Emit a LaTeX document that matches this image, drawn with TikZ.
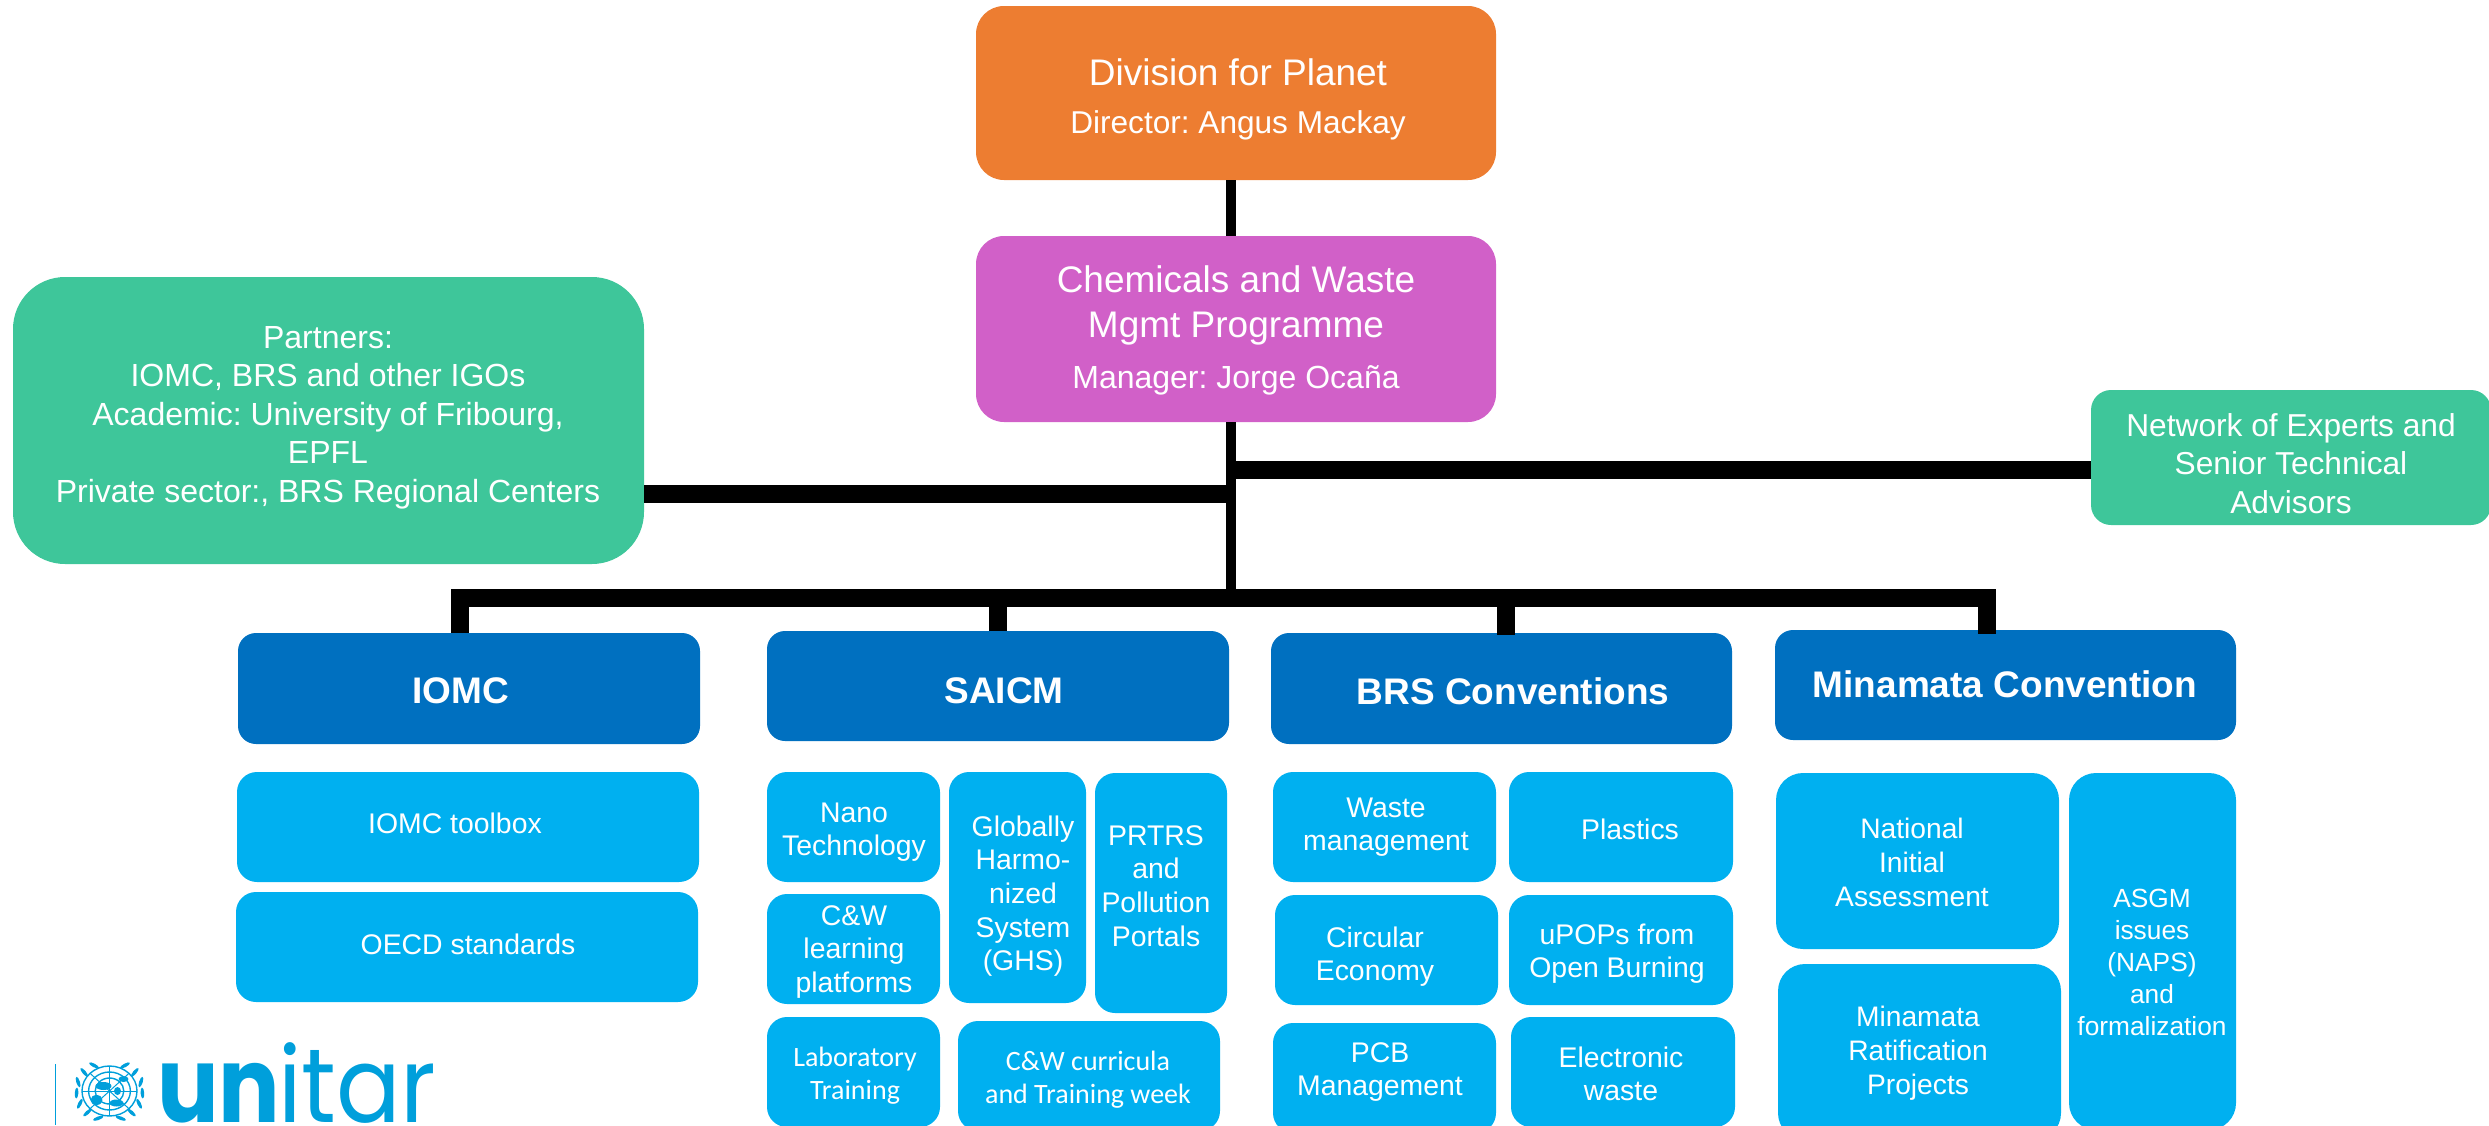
\documentclass[tikz,border=0pt]{standalone}
\usepackage{fontspec}
\setmainfont{Liberation Sans}
\newfontfamily\calfont{Carlito}
\newfontfamily\logofont{Poppins}
\definecolor{cOrange}{HTML}{ED7D31}
\definecolor{cPurple}{HTML}{D160C8}
\definecolor{cGreen}{HTML}{3EC69A}
\definecolor{cDark}{HTML}{0070C0}
\definecolor{cLight}{HTML}{00B0F0}
\definecolor{cLogo}{HTML}{009FDB}
\newcommand\sz[2]{\fontsize{#1}{#2}\selectfont}
\tikzset{
  bxbase/.style={rectangle,inner xsep=0pt,inner ysep=0pt,outer sep=0pt,text=white,anchor=center},
  topbox/.style={bxbase,fill=#1,rounded corners=28pt,font=\sz{37}{45}},
  greenbig/.style={bxbase,fill=cGreen,rounded corners=52pt,font=\sz{32}{38.5}},
  greensmall/.style={bxbase,fill=cGreen,rounded corners=20pt,font=\sz{31.7}{38.5}},
  headbox/.style={bxbase,fill=cDark,rounded corners=18pt,font=\sz{37}{44}\bfseries},
  leaf/.style={bxbase,fill=cLight,rounded corners=20pt,font=\sz{28.4}{33.7}},
  leafcal/.style={bxbase,fill=cLight,rounded corners=20pt,font=\calfont\sz{28}{33.5}},
  leafbig/.style={bxbase,fill=cLight,rounded corners=27pt,font=\sz{28.2}{34}},
  leafasgm/.style={bxbase,fill=cLight,rounded corners=27pt,font=\sz{26.3}{32}},
  wirethin/.style={line width=10pt,black},
  wirethick/.style={line width=18pt,black,line join=miter},
  logotext/.style={inner sep=0pt,outer sep=0pt,anchor=base west,text=cLogo}
}
% style, name, x1, y1, x2, y2, first baseline, text centre x, text
\newcommand\bx[9]{%
  \pgfmathsetmacro\bxW{#5-(#3)}%
  \pgfmathsetmacro\bxA{#7-(#4)}%
  \pgfmathsetmacro\bxB{#6-(#7)}%
  \pgfmathsetmacro\bxCx{(#3+#5)/2}%
  \pgfmathsetmacro\bxCy{(#4+#6)/2}%
  \pgfmathsetmacro\bxD{2*(#8-\bxCx)}%
  \node[#1,minimum width=\bxW pt,text height=\bxA pt,text depth=\bxB pt] (#2) at (\bxCx,\bxCy)
    {\hspace*{\bxD pt}\begin{tabular}[t]{@{}c@{}}#9\end{tabular}};%
}
\frenchspacing
\begin{document}
\begin{tikzpicture}[x=1pt,y=-1pt]
\useasboundingbox (0,0) rectangle (2489,1125);
\clip (0,0) rectangle (2489,1125);

% top boxes
\bx{topbox=cOrange}{division}{976}{6}{1496}{180}{85}{1238}{Division for Planet\\[3pt]{\sz{31.6}{38}Director: Angus Mackay}}
\bx{topbox=cPurple}{programme}{976}{236}{1496}{422}{292}{1236}{Chemicals and Waste\\Mgmt Programme\\[6pt]{\sz{32}{40}Manager: Jorge Ocaña}}

% partner boxes
\bx{greenbig}{partners}{13}{277}{644}{564}{348}{328}{Partners:\\IOMC, BRS and other IGOs\\Academic: University of Fribourg,\\EPFL\\Private sector:, BRS Regional Centers}
\bx{greensmall}{network}{2091}{390}{2491}{525}{436}{2291}{Network of Experts and\\Senior Technical\\Advisors}

% headers
\bx{headbox}{iomc}{238}{633}{700}{744}{703}{461}{IOMC}
\bx{headbox}{saicm}{767}{631}{1229}{741}{703}{1004}{SAICM}
\bx{headbox}{brs}{1271}{633}{1732}{744}{704}{1513}{BRS Conventions}
\bx{headbox}{minamata}{1775}{630}{2236}{740}{697}{2005}{Minamata Convention}

% IOMC column
\bx{leaf}{toolbox}{237}{772}{699}{882}{833}{455}{IOMC toolbox}
\bx{leaf}{oecd}{236}{892}{698}{1002}{954}{468}{OECD standards}

% SAICM column
\bx{leaf}{nano}{767}{772}{940}{882}{822}{854}{Nano\\Technology}
\bx{leaf}{learning}{767}{894}{940}{1004}{925}{854}{C\&W\\learning\\platforms}
\bx{leafcal}{lab}{767}{1017}{940}{1127}{1066}{855}{Laboratory\\Training}
\bx{leaf}{ghs}{949}{772}{1086}{1003}{836}{1023}{Globally\\Harmo-\\nized\\System\\(GHS)}
\bx{leaf}{prtrs}{1095}{773}{1227}{1013}{845}{1156}{PRTRS\\and\\Pollution\\Portals}
\bx{leafcal}{curricula}{958}{1021}{1220}{1131}{1070}{1088}{C\&W curricula\\and Training week}

% BRS column
\bx{leaf}{waste}{1273}{772}{1496}{882}{817}{1386}{Waste\\management}
\bx{leaf}{plastics}{1509}{772}{1733}{882}{839}{1630}{Plastics}
\bx{leaf}{circular}{1275}{895}{1498}{1005}{947}{1375}{Circular\\Economy}
\bx{leaf}{upops}{1509}{895}{1733}{1005}{944}{1617}{uPOPs from\\Open Burning}
\bx{leaf}{pcb}{1273}{1023}{1496}{1133}{1062}{1380}{PCB\\Management}
\bx{leaf}{ewaste}{1511}{1017}{1735}{1127}{1067}{1621}{Electronic\\waste}

% Minamata column
\bx{leafbig}{nia}{1776}{773}{2059}{949}{838}{1912}{National\\Initial\\Assessment}
\bx{leafbig}{ratif}{1778}{964}{2061}{1140}{1026}{1918}{Minamata\\Ratification\\Projects}
\bx{leafasgm}{asgm}{2069}{773}{2236}{1130}{907}{2152}{ASGM\\issues\\(NAPS)\\and\\formalization}

% connectors
\coordinate (stemx) at (1231,0);
\coordinate (busy) at (0,598);
\coordinate (busL) at (460,598);
\coordinate (busS) at (998,598);
\coordinate (busB) at (1505.5,598);
\coordinate (busM) at (1987,598);
\draw[wirethin] (stemx |- division.south) -- (stemx |- programme.north);
\draw[wirethin] (stemx |- programme.south) -- (stemx |- busy);
\draw[wirethick] (partners.east |- 0,494) -- (1231,494);
\draw[wirethick] (network.west |- 0,470) -- (1231,470);
\draw[wirethick] (busL |- iomc.north) -- (busL) -- (busM) -- ([yshift=-4pt]busM |- minamata.north);
\draw[wirethick] (busS) -- (busS |- saicm.north);
\draw[wirethick] (busB) -- ([yshift=-2pt]busB |- brs.north);

% logo
\coordinate (logobar) at (55.5,1064);
\draw[cLogo,line width=1.5pt] (logobar) -- (55.5,1125);
\begin{scope}[shift={(109.5,1091)},cLogo]
  \foreach \r in {1,0.76,0.52}
    \draw[line width=1.4pt] (0,0) ellipse [x radius=\r*27.5pt,y radius=\r*25pt];
  \foreach \a in {0,45,90,135}
    \draw[line width=1pt] ({27.5*cos(\a)},{25*sin(\a)}) -- ({-27.5*cos(\a)},{-25*sin(\a)});
  \fill (-6,-5) ellipse [x radius=8pt,y radius=4pt];
  \fill (-13,9) ellipse [x radius=6pt,y radius=5pt];
  \fill (7,12) ellipse [x radius=7pt,y radius=3.5pt];
  \fill (8,0) ellipse [x radius=3.5pt,y radius=4pt];
  \fill (14,-12) ellipse [x radius=5pt,y radius=3pt];
  \foreach \a in {-62,-40,-18,4,26,48,70}{
    \fill[shift={({33*cos(\a)},{29*sin(\a)})},rotate=\a] (0,0) ellipse [x radius=1.8pt,y radius=5.5pt];
    \fill[shift={({-33*cos(\a)},{29*sin(\a)})},rotate=-\a] (0,0) ellipse [x radius=1.8pt,y radius=5.5pt];
  }
\end{scope}
\node[logotext,font=\logofont\bfseries\sz{105}{105}] (logoun) at (157,1122) {\scalebox{.87}[1]{un}};
\node[logotext,font=\logofont\sz{105}{105}] (logoitar) at (278,1122) {\scalebox{.91}[1]{itar}};
\end{tikzpicture}
\end{document}
